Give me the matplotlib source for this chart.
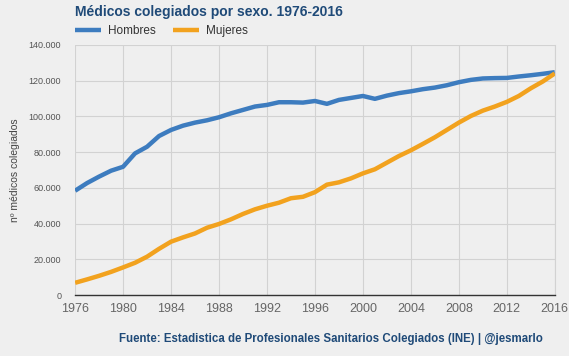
import numpy as np
import matplotlib.pyplot as plt
from matplotlib.ticker import FuncFormatter

# datos (colegiados por sexo)
anios = list(range(1976, 2017))
hombres = [58400, 62700, 66300, 69600, 71800, 79300, 83000, 89000, 92400, 94800,
           96500, 97800, 99500, 101700, 103600, 105500, 106400, 107900, 107900, 107700,
           108600, 107000, 109200, 110300, 111400, 109800, 111600, 113000, 114000, 115200,
           116100, 117400, 119100, 120400, 121200, 121400, 121500, 122300, 123000, 123800,
           124700]
mujeres = [6900, 8800, 10800, 13000, 15500, 18100, 21500, 25900, 29900, 32300,
           34500, 37700, 39800, 42400, 45400, 48000, 50000, 51700, 54200, 55000,
           57600, 61800, 63100, 65300, 68100, 70400, 74100, 77800, 81000, 84600,
           88300, 92400, 96500, 100200, 103200, 105500, 108100, 111400, 115700, 119500,
           124000]

ticks_x = list(range(1976, 2017, 4))
ticks_y = list(range(0, 140001, 20000))

fondo = '#efefef'
azul = '#3d7cbf'
naranja = '#f2a21e'
titulo_color = '#1f4a78'

plt.rcParams['font.family'] = ['Liberation Sans', 'DejaVu Sans']

fig = plt.figure(figsize=(5.69, 3.56), dpi=100, facecolor=fondo)
ax = fig.add_axes([0.132, 0.171, 0.843, 0.703], facecolor=fondo)

ax.plot(anios, hombres, color=azul, lw=3.2, label='Hombres', solid_capstyle='butt')
ax.plot(anios, mujeres, color=naranja, lw=3.2, label='Mujeres', solid_capstyle='butt')

ax.set_xlim(1976, 2016)
ax.set_ylim(0, 140000)
ax.set_xticks(ticks_x)
ax.set_yticks(ticks_y)
ax.yaxis.set_major_formatter(FuncFormatter(lambda v, p: f'{int(v):,}'.replace(',', '.')))
ax.grid(True, color='#d2d2d2', lw=0.8)
ax.set_axisbelow(True)
for lado in ['top', 'left']:
    ax.spines[lado].set_visible(False)
ax.spines['right'].set_color('#d2d2d2')
ax.spines['bottom'].set_color('#333333')
ax.spines['bottom'].set_linewidth(1.0)
ax.tick_params(axis='y', length=0, labelsize=6.5, labelcolor='#555555', pad=10)
ax.tick_params(axis='x', length=0, labelsize=9, labelcolor='#666666', pad=6)

ax.set_ylabel('nº médicos colegiados', fontsize=7.5, color='#444444', labelpad=6)

fig.text(0.132, 0.966, 'Médicos colegiados por sexo. 1976-2016', fontsize=10,
         fontweight='bold', color=titulo_color, ha='left', va='center')
fig.legend(loc='center left', bbox_to_anchor=(0.113, 0.912), ncol=2, frameon=False,
           fontsize=8.5, handlelength=2.2, columnspacing=1.5, handletextpad=0.6,
           labelcolor='#333333')

fig.text(0.582, 0.048, 'Fuente: Estadistica de Profesionales Sanitarios Colegiados (INE) | @jesmarlo',
         fontsize=8.3, fontweight='bold', color=titulo_color, ha='center', va='center')

fig.savefig('out.png', dpi=100, facecolor=fondo)
